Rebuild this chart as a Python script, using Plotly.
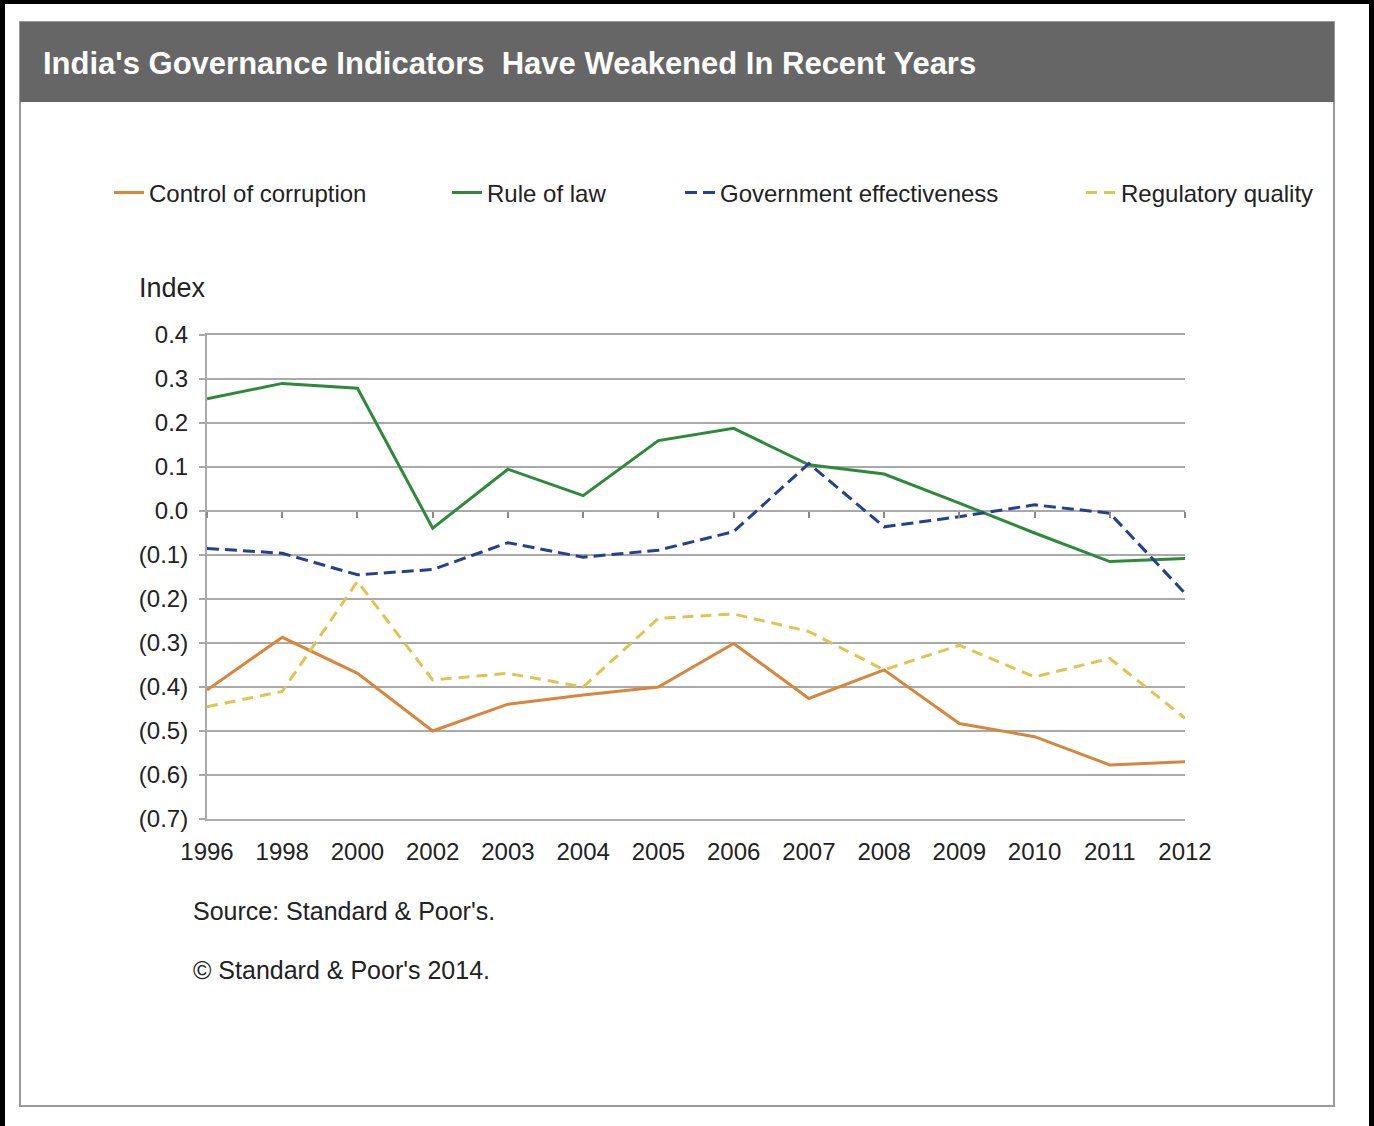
import plotly.graph_objects as go

# ---------------- data ----------------
years = ["1996", "1998", "2000", "2002", "2003", "2004", "2005",
         "2006", "2007", "2008", "2009", "2010", "2011", "2012"]
control_of_corruption = [-0.407, -0.287, -0.369, -0.500, -0.439, -0.418, -0.400,
                         -0.301, -0.426, -0.361, -0.483, -0.513, -0.577, -0.570]
rule_of_law = [0.255, 0.290, 0.279, -0.039, 0.095, 0.035, 0.160,
               0.188, 0.105, 0.084, 0.018, -0.050, -0.115, -0.108]
government_effectiveness = [-0.085, -0.096, -0.145, -0.133, -0.072, -0.105, -0.089,
                            -0.047, 0.108, -0.036, -0.013, 0.014, -0.005, -0.187]
regulatory_quality = [-0.445, -0.410, -0.160, -0.384, -0.369, -0.400, -0.244,
                      -0.234, -0.274, -0.361, -0.305, -0.377, -0.335, -0.471]
y_tick_values = [0.4, 0.3, 0.2, 0.1, 0.0, -0.1, -0.2, -0.3, -0.4, -0.5, -0.6, -0.7]
y_tick_labels = ["0.4", "0.3", "0.2", "0.1", "0.0", "(0.1)", "(0.2)", "(0.3)",
                 "(0.4)", "(0.5)", "(0.6)", "(0.7)"]

title_text = "India's Governance Indicators  Have Weakened In Recent Years"
source_text = "Source: Standard & Poor's."
copyright_text = "\u00a9 Standard & Poor's 2014."

# ---------------- geometry helpers ----------------
W, H = 1374, 1126
PL, PR, PT, PB = 207, 1185, 335, 819  # plot area in pixels


def px(x):
    return (x - PL) / (PR - PL)


def py(y):
    return (PB - y) / (PB - PT)


idx = list(range(len(years)))
FONT = "Liberation Sans, Arial, sans-serif"
GRID = "#a9a9a9"
TXT = "#222222"

fig = go.Figure()

series = [
    ("Control of corruption", control_of_corruption, "#D9853B", "solid", "legend", 109),
    ("Rule of law", rule_of_law, "#2E8A3A", "solid", "legend2", 447),
    ("Government effectiveness", government_effectiveness, "#25408E", "12px,6px", "legend3", 680),
    ("Regulatory quality", regulatory_quality, "#E0C450", "11px,7px", "legend4", 1081),
]
legend_layout = {}
for name, vals, color, dash, leg, lx in series:
    fig.add_trace(go.Scatter(
        x=idx, y=vals, name=name, mode="lines", legend=leg,
        line=dict(color=color, width=3, dash=dash),
    ))
    legend_layout[leg] = dict(
        orientation="h", x=px(lx), y=py(193), xanchor="left", yanchor="middle",
        font=dict(family=FONT, size=24, color=TXT), bgcolor="rgba(0,0,0,0)",
        itemwidth=30,
    )

# invisible helper trace so the zero-line tick axis is drawn
fig.add_trace(go.Scatter(
    x=idx, y=rule_of_law, xaxis="x2", mode="lines", opacity=0,
    showlegend=False, hoverinfo="skip", line=dict(width=1, color="white"),
))

shapes = [
    # outer black frame
    dict(type="rect", xref="paper", yref="paper", x0=px(0), x1=px(5), y0=py(0), y1=py(H),
         fillcolor="black", line=dict(width=0), layer="above"),
    dict(type="rect", xref="paper", yref="paper", x0=px(0), x1=px(W), y0=py(0), y1=py(4),
         fillcolor="black", line=dict(width=0), layer="above"),
    dict(type="rect", xref="paper", yref="paper", x0=px(1369), x1=px(W), y0=py(0), y1=py(H),
         fillcolor="black", line=dict(width=0), layer="above"),
    # panel border
    dict(type="rect", xref="paper", yref="paper", x0=px(20), x1=px(1334), y0=py(22), y1=py(1106),
         fillcolor="rgba(0,0,0,0)", line=dict(color="#9a9a9a", width=2), layer="below"),
    # title bar
    dict(type="rect", xref="paper", yref="paper", x0=px(20), x1=px(1334), y0=py(22), y1=py(102),
         fillcolor="#666666", line=dict(width=0), layer="below"),
]

annotations = [
    dict(text="<b>" + title_text + "</b>", xref="paper", yref="paper", x=px(41), y=py(63),
         xanchor="left", yanchor="middle", showarrow=False,
         font=dict(family=FONT, size=31, color="white")),
    dict(text="Index", xref="paper", yref="paper", x=px(137), y=py(288),
         xanchor="left", yanchor="middle", showarrow=False,
         font=dict(family=FONT, size=27, color=TXT)),
    dict(text=source_text, xref="paper", yref="paper", x=px(191), y=py(911),
         xanchor="left", yanchor="middle", showarrow=False,
         font=dict(family=FONT, size=25, color=TXT)),
    dict(text=copyright_text, xref="paper", yref="paper", x=px(191), y=py(970),
         xanchor="left", yanchor="middle", showarrow=False,
         font=dict(family=FONT, size=25, color=TXT)),
]

fig.update_layout(
    width=W, height=H,
    margin=dict(l=PL, r=W - PR, t=PT, b=H - PB, pad=0),
    paper_bgcolor="white", plot_bgcolor="white",
    font=dict(family=FONT, size=24, color=TXT),
    showlegend=True,
    xaxis=dict(range=[0, len(years) - 1], tickmode="array", tickvals=idx, ticktext=years,
               showgrid=False, zeroline=False, showline=True, mirror=True,
               linecolor=GRID, linewidth=2, ticks="",
               tickfont=dict(family=FONT, size=24, color=TXT),
               ticklabelstandoff=10),
    xaxis2=dict(range=[0, len(years) - 1], overlaying="x", anchor="free",
                position=(0 - y_tick_values[-1]) / (y_tick_values[0] - y_tick_values[-1]),
                tickmode="array", tickvals=idx, ticks="outside", ticklen=6, tickwidth=1.5,
                tickcolor="#8a8a8a", showticklabels=False, showgrid=False,
                zeroline=False, showline=False),
    yaxis=dict(range=[y_tick_values[-1], y_tick_values[0]], tickmode="array",
               tickvals=y_tick_values, ticktext=y_tick_labels,
               showgrid=True, gridcolor=GRID, gridwidth=2, zeroline=False,
               showline=True, linecolor=GRID, linewidth=2,
               ticks="outside", ticklen=6, tickcolor=GRID, tickwidth=2,
               tickfont=dict(family=FONT, size=24, color=TXT),
               ticklabelstandoff=6),
    shapes=shapes,
    annotations=annotations,
    **legend_layout,
)

fig.write_html("out.html", config={"displayModeBar": False},
               post_script="document.body.style.margin='0';")
